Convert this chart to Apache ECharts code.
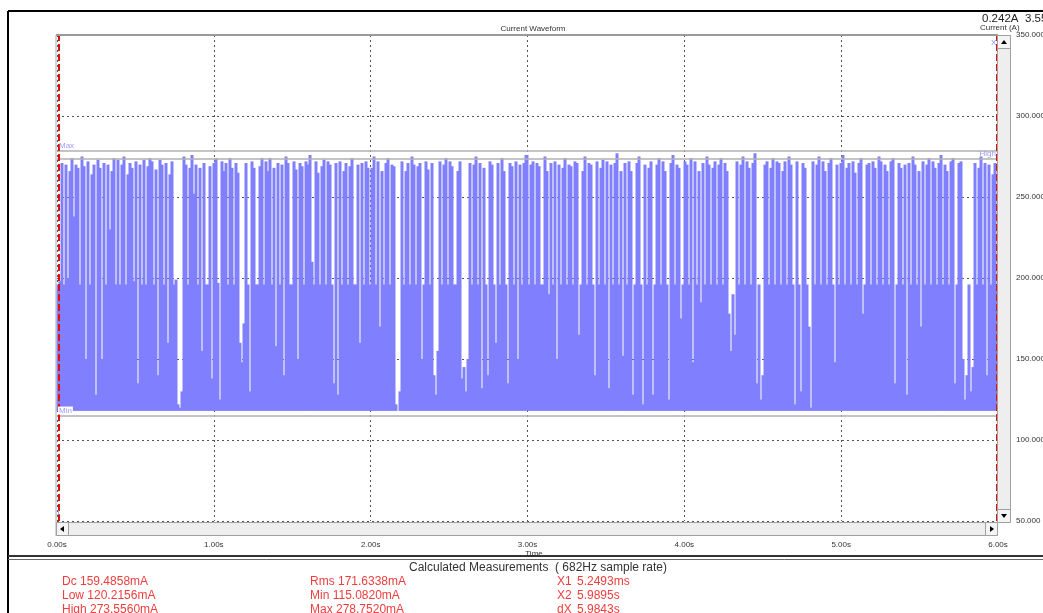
<!DOCTYPE html>
<html>
<head>
<meta charset="utf-8">
<script src="https://cdn.jsdelivr.net/npm/echarts@6/dist/echarts.min.js"></script>
<style>
html, body { margin: 0; padding: 0; background: #fff; }
#chart { width: 1043px; height: 613px; }
</style>
</head>
<body>
<div id="chart"></div>
<script>
// peak current (mA) of each ~12.8 ms slice of the 6 s capture
const peaks = [
  196, 198, 271, 196, 270, 200, 266, 274, 238, 270, 268, 196, 275, 269, 150, 272, 196, 264, 270, 128, 273, 268, 150, 271, 196, 270, 230, 266, 274, 196, 273, 196, 270, 275, 196, 264, 271, 268, 198, 272, 135, 270, 196, 273, 196, 269, 274,
  272, 196, 267, 140, 273, 270, 196, 271, 160, 264, 272, 196, 199, 122, 120, 130, 275, 270, 196, 268, 276, 252, 270, 196, 268, 155, 271, 196, 196, 269, 138, 271, 274, 197, 125, 272, 266, 271, 196, 274, 268, 196, 271, 265, 160, 148, 172,
  271, 196, 130, 272, 268, 196, 196, 269, 274, 196, 272, 266, 274, 196, 268, 158, 271, 196, 270, 140, 275, 271, 196, 196, 272, 267, 150, 271, 269, 196, 272, 270, 276, 210, 196, 272, 265, 196, 269, 273, 196, 272, 270, 196, 135, 271, 128,
  272, 196, 266, 271, 196, 269, 274, 196, 196, 270, 160, 271, 196, 272, 268, 196, 268, 275, 196, 272, 170, 266, 196, 271, 274, 196, 270, 269, 122, 118, 130, 272, 196, 266, 271, 196, 275, 270, 196, 269, 271, 150, 196, 272, 267, 196, 271,
  140, 128, 155, 272, 196, 270, 274, 196, 272, 269, 196, 196, 266, 272, 138, 145, 130, 150, 271, 196, 270, 275, 196, 271, 132, 268, 196, 140, 272, 270, 196, 160, 271, 196, 274, 266, 196, 135, 271, 269, 196, 272, 150, 270, 196, 271, 276,
  196, 270, 272, 196, 271, 269, 196, 196, 275, 266, 190, 271, 196, 272, 150, 270, 196, 268, 274, 196, 270, 269, 196, 272, 271, 165, 196, 266, 275, 196, 271, 270, 196, 140, 272, 196, 268, 273, 196, 272, 132, 270, 196, 271, 277, 196, 266,
  152, 271, 196, 272, 266, 128, 196, 271, 275, 196, 122, 270, 196, 268, 272, 128, 196, 270, 274, 196, 272, 266, 196, 125, 271, 276, 196, 270, 268, 175, 196, 272, 270, 196, 274, 148, 272, 196, 266, 185, 271, 196, 275, 270, 196, 268, 272,
  196, 270, 274, 196, 271, 266, 178, 155, 190, 165, 272, 196, 270, 275, 196, 272, 268, 196, 271, 277, 135, 196, 125, 140, 270, 272, 196, 268, 274, 196, 272, 271, 196, 266, 272, 196, 275, 270, 196, 122, 272, 196, 130, 271, 268, 196, 170,
  120, 272, 196, 270, 275, 196, 272, 266, 196, 271, 274, 196, 148, 270, 196, 271, 276, 196, 268, 271, 196, 272, 265, 196, 271, 274, 178, 196, 270, 271, 196, 272, 268, 196, 275, 272, 196, 270, 266, 196, 272, 274, 135, 196, 271, 268, 196,
  270, 128, 271, 196, 275, 270, 196, 266, 170, 272, 196, 270, 274, 196, 272, 268, 196, 271, 276, 196, 270, 266, 196, 272, 274, 135, 196, 271, 272, 150, 125, 140, 196, 130, 145, 271, 196, 268, 275, 196, 271, 140, 270, 196, 264, 271, 196
];
const captureSeconds = 6;
const floorMa = 118;

const yTicks = { min: 50, max: 350, step: 50 };
const xTicks = { min: 0, max: 6, step: 1 };

const cursorTimes = [0.0052493, 5.9895];
const levelNames = ['Max', 'High', 'Low', 'Min'];
const levelValues = [278.752, 273.556, 120.2156, 115.082];

const measLeft = ['Dc 159.4858mA', 'Low 120.2156mA', 'High 273.5560mA'];
const measMid = ['Rms 171.6338mA', 'Min 115.0820mA', 'Max 278.7520mA'];
const cursorNames = ['X1', 'X2', 'dX'];
const cursorVals = ['5.2493ms', '5.9895s', '5.9843s'];

const FONT = '"Liberation Sans", Arial, sans-serif';
const BLUE = '#8080ff';
const RED = '#f03c3c';

const dt = captureSeconds / peaks.length;
const wave = peaks.map((v, i) => [i * dt, v]);

const chart = echarts.init(document.getElementById('chart'));

// one filled column per slice, from the floor up to its peak
// (drawn half a pixel wider each side so the dips read as thin lines)
function renderSlice(params, api) {
  const t = api.value(0);
  const top = api.coord([t, api.value(1)]);
  const bot = api.coord([t, floorMa]);
  const right = api.coord([t + dt, floorMa]);
  const x0 = Math.round(bot[0]) - 0.5;
  const x1 = Math.round(right[0]) + 0.5;
  return {
    type: 'rect',
    shape: { x: x0, y: top[1], width: x1 - x0, height: bot[1] - top[1] },
    style: { fill: BLUE }
  };
}

// level lines (Max/High/Low/Min)
const levelLabelPos = { Max: 'insideStartTop', Min: 'insideStartTop', High: 'insideEndTop', Low: 'insideEndTop' };
const levelLines = levelNames.map((n, i) => ({
  yAxis: levelValues[i],
  lineStyle: { color: '#b0b0b0', width: 1.5, type: 'solid', opacity: n === 'Low' ? 0 : 1 },
  label: {
    show: true, formatter: n, position: levelLabelPos[n], distance: [1, 1],
    color: '#9a9aff', fontSize: 8, fontFamily: FONT,
    backgroundColor: (n === 'Low' || n === 'Min') ? '#fff' : 'transparent', padding: [0, 1]
  }
}));
const cursorLines = cursorTimes.map(t => ({
  xAxis: t,
  lineStyle: { color: '#e01010', width: 2, type: [7, 3] },
  label: { show: false }
}));

let graphics = [];
function line(x1, y1, x2, y2, stroke, w) {
  graphics.push({ type: 'line', z: 50, silent: true, shape: { x1, y1, x2, y2 }, style: { stroke, lineWidth: w } });
}
function rect(x, y, width, height, fill, stroke) {
  graphics.push({ type: 'rect', z: 50, silent: true, shape: { x, y, width, height }, style: { fill, stroke, lineWidth: 1 } });
}
function tri(points) {
  graphics.push({ type: 'polygon', z: 51, silent: true, shape: { points }, style: { fill: '#000' } });
}
function text(x, y, str, size, color, align) {
  graphics.push({ type: 'text', z: 52, silent: true, x, y,
    style: { text: str, fill: color, font: size + 'px ' + FONT, textAlign: align || 'left', textVerticalAlign: 'middle' } });
}

// outer frame
line(8, 11, 1043, 11, '#000', 2);
line(8, 11, 8, 613, '#000', 2);
line(8, 556, 1043, 556, '#333', 2);
line(8, 559.5, 1043, 559.5, '#666', 1);
// plot frame
line(56, 35, 998, 35, '#999', 2);
line(56, 35, 56, 536, '#aaa', 1);
// horizontal scrollbar
rect(56.5, 522.5, 941, 13, '#eeeeee', '#a0a0a0');
rect(56.5, 522.5, 12, 13, '#f4f4f4', '#a0a0a0');
rect(985.5, 522.5, 12, 13, '#f4f4f4', '#a0a0a0');
tri([[60, 529], [64, 526], [64, 532]]);
tri([[994, 529], [990, 526], [990, 532]]);
// vertical scrollbar
rect(997.5, 35.5, 13, 487, '#eeeeee', '#a0a0a0');
rect(997.5, 35.5, 13, 13, '#f4f4f4', '#a0a0a0');
rect(997.5, 509.5, 13, 13, '#f4f4f4', '#a0a0a0');
tri([[1004, 40], [1001, 44], [1007, 44]]);
tri([[1004, 518], [1001, 514], [1007, 514]]);

// headings
text(533, 29, 'Current Waveform', 8, '#333', 'center');
text(982, 19, '0.242A', 11.5, '#222');
text(1025, 19, '3.55', 11.5, '#222');
text(980, 28, 'Current (A)', 8, '#333');
text(991, 43, 'X', 8, '#8c8cff');
text(56, 513, '1', 8, '#8c8cff');
text(534, 554, 'Time', 8, '#333', 'center');

// measurements block
text(409, 568, 'Calculated Measurements', 12, '#333');
text(555, 568, '( 682Hz sample rate)', 12, '#333');
for (let r = 0; r < 3; r++) {
  const y = 582 + r * 14;
  text(62, y, measLeft[r], 12, RED);
  text(310, y, measMid[r], 12, RED);
  text(557, y, cursorNames[r], 12, RED);
  text(577, y, cursorVals[r], 12, RED);
}

chart.setOption({
  animation: false,
  grid: { left: 57, top: 35, width: 941, height: 486, outerBoundsMode: 'none', containLabel: false },
  xAxis: {
    type: 'value', min: xTicks.min, max: xTicks.max, interval: xTicks.step,
    axisLine: { show: false }, axisTick: { show: false },
    axisLabel: { margin: 20, fontSize: 8, color: '#333', fontFamily: FONT, formatter: v => v.toFixed(2) + 's' },
    splitLine: { show: true, lineStyle: { color: '#555', type: [2, 3], width: 1 } }
  },
  yAxis: {
    type: 'value', position: 'right', min: yTicks.min, max: yTicks.max, interval: yTicks.step,
    axisLine: { show: false }, axisTick: { show: false },
    axisLabel: { margin: 18, fontSize: 8, color: '#333', fontFamily: FONT, formatter: v => v.toFixed(3) },
    splitLine: { show: true, lineStyle: { color: '#555', type: [2, 3], width: 1 } }
  },
  series: [{
    type: 'custom',
    data: wave,
    renderItem: renderSlice,
    encode: { x: 0, y: 1 },
    silent: true,
    markLine: {
      silent: true,
      symbol: ['none', 'none'],
      data: levelLines.concat(cursorLines)
    }
  }],
  graphic: graphics
});
</script>
</body>
</html>
